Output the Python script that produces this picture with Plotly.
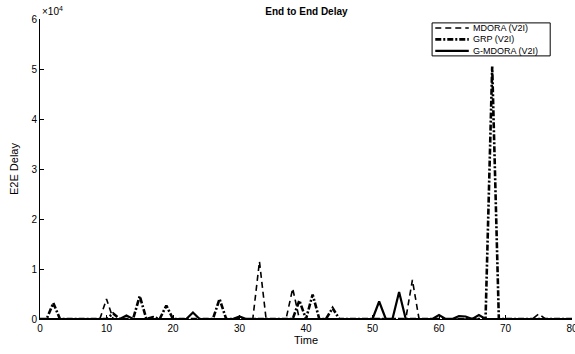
import plotly.graph_objects as go

# Simulation time steps
time = list(range(0, 81))

# End-to-end delay per time step for each routing scheme
mdora_v2i = [
    0, 0, 0, 0, 0, 0, 0, 0, 0, 0,
    4000, 0, 0, 0, 0, 0, 0, 0, 0, 0,
    0, 0, 0, 0, 0, 0, 0, 0, 0, 0,
    0, 0, 0, 11500, 0, 0, 0, 0, 6100, 0,
    0, 0, 0, 0, 0, 0, 0, 0, 0, 0,
    0, 0, 0, 0, 0, 0, 7800, 0, 0, 0,
    0, 0, 0, 0, 0, 0, 0, 0, 0, 0,
    0, 0, 0, 0, 0, 1000, 0, 0, 0, 0,
    0,
]
grp_v2i = [
    0, 0, 3200, 0, 0, 0, 0, 0, 0, 0,
    0, 1100, 0, 0, 0, 4600, 0, 400, 0, 2700,
    0, 0, 0, 0, 0, 0, 0, 4000, 0, 0,
    0, 0, 0, 0, 0, 0, 0, 0, 0, 3700,
    0, 4900, 0, 0, 2200, 0, 0, 0, 0, 0,
    0, 0, 0, 0, 0, 0, 0, 0, 0, 0,
    0, 0, 0, 0, 0, 0, 0, 0, 50500, 0,
    0, 0, 0, 0, 0, 0, 0, 0, 0, 0,
    0,
]
g_mdora_v2i = [
    0, 0, 0, 0, 0, 0, 0, 0, 0, 0,
    0, 0, 0, 700, 0, 0, 0, 0, 0, 0,
    0, 0, 0, 1300, 0, 0, 0, 0, 0, 0,
    500, 0, 0, 0, 0, 0, 0, 0, 0, 0,
    0, 0, 0, 0, 0, 0, 0, 0, 0, 0,
    0, 3500, 0, 0, 5400, 0, 0, 0, 0, 0,
    800, 0, 0, 600, 500, 0, 800, 0, 0, 0,
    0, 0, 0, 0, 0, 0, 0, 0, 0, 0,
    0,
]

series_names = ["MDORA (V2I)", "GRP (V2I)", "G-MDORA (V2I)"]
series_values = [mdora_v2i, grp_v2i, g_mdora_v2i]
series_lines = [
    dict(color="black", width=1.6, dash="6px,4px"),
    dict(color="black", width=2.6, dash="6px,2px,2px,2px"),
    dict(color="black", width=2.2, dash="solid"),
]

y_tick_vals = [0, 10000, 20000, 30000, 40000, 50000, 60000]
y_tick_text = ["0", "1", "2", "3", "4", "5", "6"]
x_tick_vals = [0, 10, 20, 30, 40, 50, 60, 70, 80]

font_family = "Liberation Sans, Arial, sans-serif"

fig = go.Figure()
for name, values, line in zip(series_names, series_values, series_lines):
    fig.add_trace(go.Scatter(
        x=time, y=values, mode="lines", name=name, line=line,
        showlegend=False,
    ))

fig.update_layout(
    width=575, height=354,
    margin=dict(l=40, r=3, t=19, b=35),
    paper_bgcolor="white", plot_bgcolor="white",
    font=dict(family=font_family, size=10, color="black"),
    title=dict(
        text="<b>End to End Delay</b>", x=0.533, xanchor="center",
        y=0.968, yanchor="middle", font=dict(size=10, color="black"),
    ),
    xaxis=dict(
        range=[0, 80], tickvals=x_tick_vals,
        showline=True, linecolor="black", linewidth=1,
        ticks="inside", ticklen=4, tickcolor="black",
        showgrid=False, zeroline=False, automargin=False,
        tickfont=dict(size=10), ticklabeloverflow="allow",
        title=dict(text="Time", font=dict(size=11), standoff=2),
    ),
    yaxis=dict(
        range=[0, 60000], tickvals=y_tick_vals, ticktext=y_tick_text,
        showline=True, linecolor="black", linewidth=1,
        ticks="inside", ticklen=4, tickcolor="black",
        showgrid=False, zeroline=False, automargin=False,
        tickfont=dict(size=10),
        title=dict(text="E2E Delay", font=dict(size=11), standoff=10),
    ),
)

# Exponent marker for the y axis scale
fig.add_annotation(
    text="\u00d710<sup>4</sup>", xref="paper", yref="paper",
    x=0.0, y=1.0, xanchor="left", yanchor="bottom",
    showarrow=False, font=dict(size=10, color="black"),
)

# Compact boxed legend in the upper right corner
box_x0, box_x1 = 0.737, 0.959
box_y0, box_y1 = 0.877, 0.987
row_y = [0.970, 0.932, 0.894]
sample_x0, sample_x1 = 0.743, 0.806
fig.add_shape(
    type="rect", xref="paper", yref="paper",
    x0=box_x0, x1=box_x1, y0=box_y0, y1=box_y1,
    line=dict(color="black", width=1), fillcolor="white", layer="above",
)
for name, line, ry in zip(series_names, series_lines, row_y):
    fig.add_shape(
        type="line", xref="paper", yref="paper",
        x0=sample_x0, x1=sample_x1, y0=ry, y1=ry,
        line=dict(color=line["color"], width=line["width"], dash=line["dash"]),
        layer="above",
    )
    fig.add_annotation(
        text=name, xref="paper", yref="paper",
        x=sample_x1 + 0.004, y=ry, xanchor="left", yanchor="middle",
        showarrow=False, font=dict(size=9, color="black"),
    )

fig.write_html("out.html")
